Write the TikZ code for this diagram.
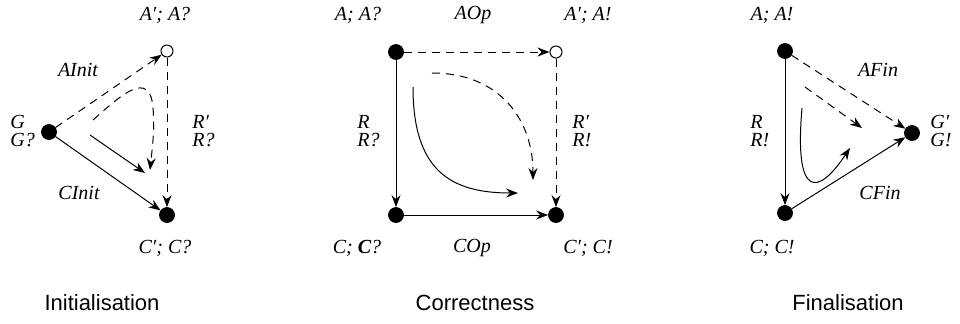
\documentclass[tikz,border=0pt]{standalone}
\usepackage{fontspec}
\setmainfont{Liberation Serif}
\setsansfont{Liberation Sans}
\usetikzlibrary{arrows.meta}
\tikzset{
  dot/.style={circle,fill=black,draw=black,inner sep=0pt,minimum size=7.5pt},
  odot/.style={circle,fill=white,draw=black,line width=0.5pt,inner sep=0pt,minimum size=6pt},
  lbl/.style={font=\fontsize{10}{9}\selectfont\itshape,inner sep=0pt},
  lbl2/.style={lbl,align=left,anchor=west},
  captxt/.style={font=\fontsize{11}{13}\selectfont\sffamily,inner sep=0pt},
  ar/.style={line width=0.5pt,-{Stealth[length=6pt,width=4.5pt,inset=2pt]}},
  dsh/.style={ar,dash pattern=on 4pt off 3pt},
}
\begin{document}
\begin{tikzpicture}[x=0.5pt,y=-0.5pt]
\useasboundingbox (0,0) rectangle (960,323);
% ---------- Initialisation ----------
\node[dot]  (G)  at (49,132) {};
\node[odot] (A1) at (167,51) {};
\node[dot]  (C1) at (167,215) {};
\draw[dsh] (G) -- (A1);
\draw[dsh] (A1) -- (C1);
\draw[ar] (G) -- (C1);
\coordinate (i1) at (93,120);
\coordinate (i1m) at (153,108);
\coordinate (i1e) at (150,170);
\draw[dsh] (i1) .. controls (120,96) and (150,68) .. (i1m) .. controls (155,130) and (152,150) .. (i1e);
\coordinate (i2) at (90,135);
\coordinate (i2e) at (145,173);
\draw[ar] (i2) -- (i2e);
\node[lbl] (tA1) at (165,15) {A′; A?};
\node[lbl] (tAI) at (78,70) {AInit};
\node[lbl2] (tG) at (10,131) {G\\G?};
\node[lbl2] (tR1) at (192,131) {R′\\R?};
\node[lbl] (tCI) at (79,193) {CInit};
\node[lbl] (tC1) at (165,248) {C′; C?};
\node[captxt] (cI) at (102,303) {Initialisation};
% ---------- Correctness ----------
\node[dot]  (A)  at (396,52) {};
\node[odot] (A2) at (556,52) {};
\node[dot]  (C)  at (396,215) {};
\node[dot]  (C2) at (556,215) {};
\draw[dsh] (A) -- (A2);
\draw[dsh] (A2) -- (C2);
\draw[ar] (A) -- (C);
\draw[ar] (C) -- (C2);
\coordinate (m1) at (432,73);
\coordinate (m1e) at (533,180);
\draw[dsh] (m1) .. controls (500,73) and (533,120) .. (m1e);
\coordinate (m2) at (413,87);
\coordinate (m2e) at (518,193);
\draw[ar] (m2) .. controls (413,170) and (450,193) .. (m2e);
\node[lbl] (tA) at (358,15) {A; A?};
\node[lbl] (tAO) at (473,15) {AOp};
\node[lbl] (tA2) at (588,15) {A′; A!};
\node[lbl2] (tR) at (357,131) {R\\R?};
\node[lbl2] (tR2) at (572,131) {R′\\R!};
\node[lbl] (tC) at (357,248) {C; \textbf{C}?};
\node[lbl] (tCO) at (472,248) {COp};
\node[lbl] (tC2) at (588,248) {C′; C!};
\node[captxt] (cC) at (475,303) {Correctness};
% ---------- Finalisation ----------
\node[dot] (A3) at (785,51) {};
\node[dot] (G3) at (912,133) {};
\node[dot] (C3) at (785,213) {};
\draw[dsh] (A3) -- (G3);
\draw[ar] (A3) -- (C3);
\draw[ar] (C3) -- (G3);
\coordinate (f1) at (805,87);
\coordinate (f1e) at (862,128);
\draw[dsh] (f1) -- (f1e);
\coordinate (f2) at (802,108);
\coordinate (f2e) at (850,148);
\draw[ar] (f2) .. controls (794,200) and (818,196) .. (f2e);
\node[lbl] (tA3) at (772,15) {A; A!};
\node[lbl] (tAF) at (878,70) {AFin};
\node[lbl2] (tR3) at (750,131) {R\\R!};
\node[lbl2] (tG3) at (930,131) {G′\\G!};
\node[lbl] (tCF) at (880,193) {CFin};
\node[lbl] (tC3) at (772,248) {C; C!};
\node[captxt] (cF) at (848,303) {Finalisation};
\end{tikzpicture}
\end{document}
